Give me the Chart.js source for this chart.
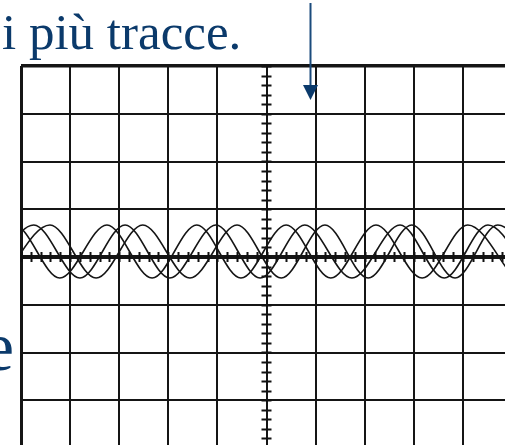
<!DOCTYPE html>
<html>
<head>
<meta charset="utf-8">
<script src="https://cdn.jsdelivr.net/npm/chart.js@4"></script>
<style>
  html, body { margin: 0; padding: 0; background: #fff; overflow: hidden; width: 505px; height: 445px; }
  #scope { position: absolute; left: 0; top: 0; }
  #overlay { position: absolute; left: 0; top: 0; }
</style>
</head>
<body>
<canvas id="scope" width="530" height="470"></canvas>
<svg id="overlay" width="505" height="445">
  <text x="2" y="49" font-family="Liberation Serif, Times New Roman, serif" font-size="51" fill="#0b3a6b">i più tracce.</text>
  <text x="14" y="370" text-anchor="end" font-family="Liberation Serif, Times New Roman, serif" font-size="70" fill="#0b3a6b">e</text>
  <line x1="310.5" y1="3" x2="310.5" y2="88" stroke="#1b4b7c" stroke-width="2"/>
  <polygon points="303,85 318,85 310.5,100" fill="#0b3a6b"/>
</svg>
<script>
// screen is 10 x 8 divisions, values in divisions
const xDivs = [0, 10];
const yDivs = [-4, 4];
const minorStep = 0.2;

const peak = 0.67;
const trough = -0.44;

// x positions of the extrema (trough, peak, trough ...) for each trace
const traceA = [-1.10, -0.14, 0.79, 1.75, 2.67, 3.58, 4.48, 5.40, 6.31, 7.23, 8.17, 9.10, 10.04];
const traceB = [-0.37, 0.59, 1.53, 2.48, 3.44, 4.40, 5.30, 6.19, 7.07, 7.96, 8.84, 9.71, 10.67];
const traceC = [-0.67, 0.26, 1.20, 2.12, 3.03, 3.97, 4.87, 5.78, 6.74, 7.72, 8.62, 9.51, 10.41];

function toPoints(xs) {
    return xs.map((x, i) => ({ x: x, y: i % 2 === 0 ? trough : peak }));
}

/* centre graticule with small marks */
const graticule = {
    id: "graticule",
    beforeDatasetsDraw(chart) {
        const c = chart.ctx;
        const xs = chart.scales.x, ys = chart.scales.y;
        const cx = xs.getPixelForValue(5);
        const cy = ys.getPixelForValue(0);
        c.save();
        c.strokeStyle = "#111";
        c.lineWidth = 2;
        c.beginPath();
        for (let v = yDivs[0]; v <= yDivs[1] + 0.001; v += minorStep) {
            const py = Math.round(ys.getPixelForValue(v)) + 0.5;
            c.moveTo(cx - 5, py);
            c.lineTo(cx + 5, py);
        }
        for (let v = xDivs[0]; v <= xDivs[1] + 0.001; v += minorStep) {
            const px = Math.round(xs.getPixelForValue(v)) + 0.5;
            c.moveTo(px, cy - 5);
            c.lineTo(px, cy + 5);
        }
        c.stroke();
        c.restore();
    }
};

const traceStyle = {
    borderColor: "#151515",
    borderWidth: 1.6,
    pointRadius: 0,
    cubicInterpolationMode: "monotone",
    fill: false
};

new Chart(document.getElementById("scope"), {
    type: "line",
    data: {
        datasets: [
            { ...traceStyle, data: toPoints(traceA) },
            { ...traceStyle, data: toPoints(traceB) },
            { ...traceStyle, data: toPoints(traceC) }
        ]
    },
    options: {
        responsive: false,
        animation: false,
        events: [],
        layout: { padding: { left: 21, top: 66, right: 18, bottom: 22 } },
        plugins: { legend: { display: false }, tooltip: { enabled: false } },
        scales: {
            x: {
                type: "linear",
                min: xDivs[0], max: xDivs[1],
                ticks: { display: false, stepSize: 1 },
                border: { display: false },
                grid: {
                    color: "#151515",
                    drawTicks: false,
                    lineWidth: ctx => ctx.tick && ctx.tick.value === 0 ? 3 : 2
                }
            },
            y: {
                type: "linear",
                min: yDivs[0], max: yDivs[1],
                ticks: { display: false, stepSize: 1 },
                border: { display: false },
                grid: {
                    color: "#151515",
                    drawTicks: false,
                    lineWidth: ctx => {
                        if (!ctx.tick) return 2;
                        if (ctx.tick.value === 4) return 3.5;
                        if (ctx.tick.value === 0) return 4;
                        return 2;
                    }
                }
            }
        }
    },
    plugins: [graticule]
});
</script>
</body>
</html>
